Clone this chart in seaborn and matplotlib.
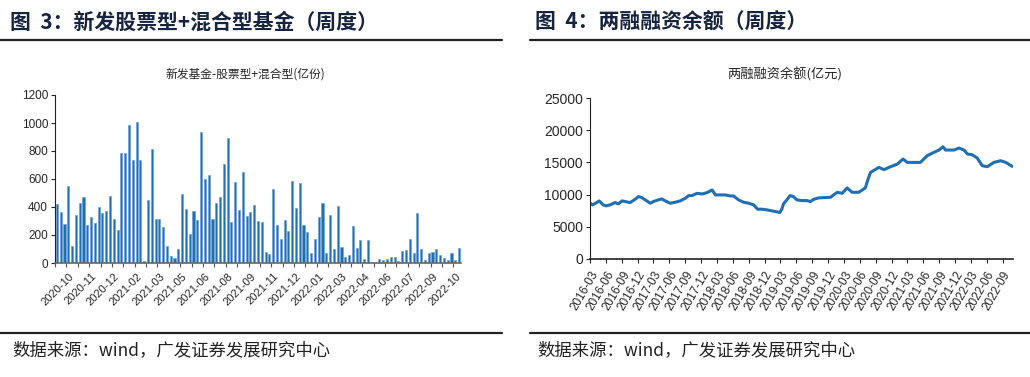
import pandas as pd
import numpy as np
import matplotlib
matplotlib.use('Agg')
import matplotlib.pyplot as plt
import matplotlib.dates as mdates
import seaborn as sns

sns.set_style('white')
plt.rcParams['font.family'] = ['Liberation Sans', 'Noto Sans CJK SC', 'DejaVu Sans']

# 图3 新发股票型+混合型基金（周度，亿份）
fund_values = [419, 364, 277, 547, 121, 346, 431, 473, 270, 331,
               284, 398, 360, 372, 478, 317, 239, 783, 783, 987,
               734, 1004, 734, 14, 447, 812, 317, 317, 256, 125,
               52, 38, 99, 490, 383, 208, 372, 308, 933, 599,
               632, 317, 426, 471, 708, 892, 291, 582, 381, 653,
               338, 362, 414, 298, 291, 78, 64, 530, 270, 170,
               310, 232, 587, 391, 570, 272, 225, 71, 175, 331,
               426, 69, 343, 97, 407, 111, 45, 54, 265, 109,
               163, 28, 163, np.nan, np.nan, 26, 19, 28, 40, 40,
               17, 88, 95, 170, 73, 360, 102, 21, 71, 78,
               99, 54, 33, 24, 71, 19, 106]
fund_labels = ['2020-10', '2020-11', '2020-12', '2021-02', '2021-03', '2021-05',
               '2021-06', '2021-08', '2021-09', '2021-11', '2021-12', '2022-01',
               '2022-03', '2022-04', '2022-06', '2022-07', '2022-09', '2022-10']

# 图4 两融融资余额（亿元）
margin_dates = ['2016-03-01', '2016-03-15', '2016-04-08', '2016-04-23', '2016-05-16',
                '2016-06-01', '2016-06-24', '2016-07-23', '2016-08-11', '2016-09-01',
                '2016-09-29', '2016-10-18', '2016-11-16', '2016-12-05', '2016-12-24',
                '2017-01-13', '2017-02-11', '2017-03-01', '2017-03-29', '2017-04-18',
                '2017-05-16', '2017-06-05', '2017-07-04', '2017-08-02', '2017-09-01',
                '2017-09-20', '2017-10-09', '2017-11-07', '2017-12-06', '2018-01-04',
                '2018-02-02', '2018-02-21', '2018-03-20', '2018-04-18', '2018-05-17',
                '2018-06-05', '2018-07-04', '2018-08-02', '2018-09-01', '2018-09-29',
                '2018-10-22', '2018-11-16', '2018-12-15', '2019-01-13', '2019-02-11',
                '2019-02-27', '2019-03-10', '2019-03-20', '2019-04-08', '2019-04-27',
                '2019-05-16', '2019-06-05', '2019-07-04', '2019-08-02', '2019-08-21',
                '2019-09-10', '2019-10-08', '2019-12-15', '2020-01-23', '2020-02-21',
                '2020-03-20', '2020-04-18', '2020-05-26', '2020-07-03', '2020-07-19',
                '2020-08-02', '2020-09-19', '2020-10-18', '2020-11-16', '2021-01-04',
                '2021-02-05', '2021-03-01', '2021-04-08', '2021-05-16', '2021-06-24',
                '2021-08-01', '2021-08-31', '2021-09-23', '2021-10-08', '2021-11-26',
                '2021-12-24', '2022-01-22', '2022-02-11', '2022-03-10', '2022-04-08',
                '2022-05-07', '2022-06-05', '2022-07-13', '2022-08-21', '2022-09-19',
                '2022-10-27']
margin_values = [8700, 8400, 8760, 9020, 8400, 8250, 8400, 8760, 8560, 9020,
                 8870, 8760, 9280, 9690, 9540, 9180, 8660, 8920, 9180, 9330,
                 8920, 8660, 8810, 9020, 9430, 9850, 9850, 10200, 10100, 10310,
                 10720, 9950, 9950, 9950, 9790, 9790, 9180, 8810, 8660, 8400,
                 7730, 7730, 7630, 7470, 7320, 7220, 7730, 8560, 9180, 9850,
                 9690, 9180, 9070, 9070, 8920, 9270, 9490, 9580, 10360, 10200,
                 11040, 10360, 10360, 11040, 12430, 13450, 14230, 13870, 14230, 14750,
                 15530, 15000, 15000, 15000, 16040, 16550, 16920, 17430, 16920, 16920,
                 17230, 16920, 16300, 16190, 15680, 14490, 14330, 15000, 15260, 15000,
                 14380]

blue = '#1f6fb4'
navy = '#17243f'
W, H = 1030, 377

fig = plt.figure(figsize=(W / 100, H / 100), dpi=100)


def box(x0, y0, x1, y1):
    return [x0 / W, 1 - y1 / H, (x1 - x0) / W, (y1 - y0) / H]


# 标题与分隔线
for x, t in [(10, '图  3：新发股票型+混合型基金（周度）'), (535, '图  4：两融融资余额（周度）')]:
    fig.text(x / W, 1 - 22 / H, t, fontsize=15, fontweight='bold', color=navy,
             va='center', ha='left', family=['Noto Sans CJK SC'])
    fig.text((x + 2) / W, 1 - 350 / H, '数据来源：wind，广发证券发展研究中心', fontsize=12.5,
             color='#222222', va='center', ha='left', family=['Noto Sans CJK SC'])
for x0, x1 in [(0, 502), (530, W)]:
    for y in (40, 333):
        fig.add_artist(plt.Line2D([x0 / W, x1 / W], [1 - y / H, 1 - y / H],
                                  color='#222222', lw=1.6, transform=fig.transFigure))

# 左图：柱状图
df_fund = pd.DataFrame({'week': np.arange(len(fund_values)), 'value': fund_values})
ax1 = fig.add_axes(box(55, 95, 461, 263))
sns.barplot(data=df_fund, x='week', y='value', color=blue, width=0.55,
            errorbar=None, saturation=1, edgecolor='#6fa3d6', linewidth=0.5, ax=ax1)
ax1.set_xlim(-0.5, len(fund_values) - 0.5)
ax1.set_ylim(0, 1200)
ax1.set_yticks(range(0, 1201, 200))
ax1.tick_params(axis='y', labelsize=8.5, length=3, width=0.8, direction='out', pad=2, left=True)
label_pos = [6 * i + 3 for i in range(len(fund_labels))]
ax1.set_xticks(label_pos)
ax1.set_xticklabels(fund_labels, rotation=45, ha='right', rotation_mode='anchor', fontsize=8)
ax1.tick_params(axis='x', which='major', length=0, pad=6)
ax1.set_xticks(np.arange(-0.5, len(fund_values), 3), minor=True)
ax1.tick_params(axis='x', which='minor', length=3, width=0.8, color='#555555', bottom=True)
ax1.set_xlabel('')
ax1.set_ylabel('')
for s in ['top', 'right']:
    ax1.spines[s].set_visible(False)
ax1.spines['left'].set_color('#222222')
ax1.spines['left'].set_linewidth(0.8)
ax1.spines['bottom'].set_color('#666666')
ax1.spines['bottom'].set_linewidth(1.2)
fig.text(245 / W, 1 - 74 / H, '新发基金-股票型+混合型(亿份)', fontsize=8.5, ha='center', va='center',
         family=['Noto Sans CJK SC'])

# 右图：折线图
df_margin = pd.DataFrame({'date': pd.to_datetime(margin_dates), 'value': margin_values})
ax2 = fig.add_axes(box(590, 98, 1013, 259))
sns.lineplot(data=df_margin, x='date', y='value', color=blue, lw=2.2, ax=ax2)
ax2.set_xlim(pd.Timestamp('2016-03-01'), pd.Timestamp('2022-10-31'))
ax2.set_ylim(0, 25000)
ax2.set_yticks(range(0, 25001, 5000))
ax2.tick_params(axis='y', labelsize=10, length=3, width=0.8, direction='out', pad=2, left=True)
ax2.xaxis.set_major_locator(mdates.MonthLocator(bymonth=[3, 6, 9, 12]))
ax2.xaxis.set_major_formatter(mdates.DateFormatter('%Y-%m'))
plt.setp(ax2.get_xticklabels(), rotation=60, ha='right', rotation_mode='anchor', fontsize=8.5)
ax2.tick_params(axis='x', length=3, width=0.8, pad=4, bottom=True)
ax2.set_xlabel('')
ax2.set_ylabel('')
for s in ['top', 'right']:
    ax2.spines[s].set_visible(False)
for s in ['left', 'bottom']:
    ax2.spines[s].set_color('#222222')
    ax2.spines[s].set_linewidth(0.8)
ax2.spines['bottom'].set_linewidth(1.2)
fig.text(785 / W, 1 - 74 / H, '两融融资余额(亿元)', fontsize=9.5, ha='center', va='center',
         family=['Noto Sans CJK SC'])

fig.savefig('out.png', dpi=100, facecolor='white')
